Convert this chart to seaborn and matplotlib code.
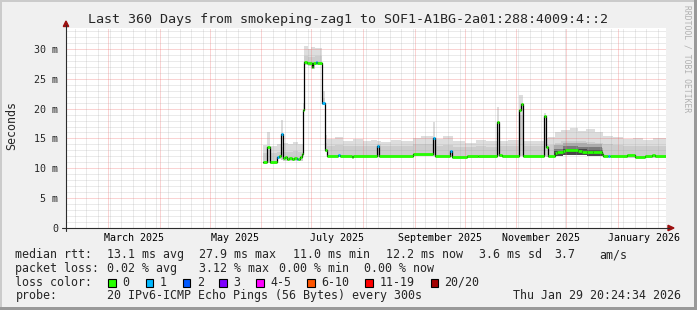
import numpy as np
import pandas as pd
import matplotlib
matplotlib.use("Agg")
import matplotlib.pyplot as plt
import matplotlib.dates as mdates
import matplotlib.ticker as mticker
from matplotlib.patches import Rectangle, Polygon
from matplotlib.lines import Line2D
import seaborn as sns

# ---------------- data ----------------
TITLE = "Last 360 Days from smokeping-zag1 to SOF1-A1BG-2a01:288:4009:4::2"
T_START = "2025-02-03 20:24"
T_END = "2026-01-29 20:24"

# median rtt (ms) as step segments: start time, value, loss class
med_start = [
    "2025-06-01 21:00", "2025-06-04 11:00", "2025-06-06 02:00", "2025-06-10 15:00",
    "2025-06-11 18:00", "2025-06-13 01:00", "2025-06-13 21:00", "2025-06-15 10:00",
    "2025-06-16 06:00", "2025-06-17 16:00", "2025-06-19 06:00", "2025-06-20 20:00",
    "2025-06-22 06:00", "2025-06-23 00:00", "2025-06-24 06:00", "2025-06-25 06:00",
    "2025-06-25 21:00", "2025-06-26 20:00", "2025-06-28 06:00", "2025-07-01 06:00",
    "2025-07-01 21:00", "2025-07-03 20:00", "2025-07-04 15:00", "2025-07-07 06:00",
    "2025-07-09 06:00", "2025-07-10 15:00", "2025-07-17 00:00", "2025-07-18 00:00",
    "2025-07-25 06:00", "2025-07-26 06:00", "2025-08-09 14:00", "2025-08-10 19:00",
    "2025-08-31 00:00", "2025-09-12 00:00", "2025-09-13 10:00", "2025-09-22 05:00",
    "2025-09-23 14:00", "2025-10-02 07:00", "2025-10-09 00:00", "2025-10-20 14:00",
    "2025-10-21 19:00", "2025-10-23 05:00", "2025-11-02 19:00", "2025-11-04 00:00",
    "2025-11-04 19:00", "2025-11-17 19:00", "2025-11-18 20:00", "2025-11-19 22:00",
    "2025-11-24 06:00", "2025-11-25 14:00", "2025-11-28 22:00", "2025-11-30 06:00",
    "2025-12-08 05:00", "2025-12-10 05:00", "2025-12-13 06:00", "2025-12-17 05:00",
    "2025-12-22 07:00", "2025-12-23 05:00", "2025-12-26 00:00", "2025-12-27 00:00",
    "2026-01-06 07:00", "2026-01-11 06:00", "2026-01-17 06:00", "2026-01-21 07:00",
    "2026-01-23 06:00",
]
med_value = [
    11.0, 13.6, 11.0, 11.95,
    12.05, 15.75, 11.68, 11.84,
    11.51, 11.79, 11.51, 11.68,
    11.51, 11.51, 11.95, 12.4,
    19.78, 27.87, 27.6, 26.9,
    27.6, 27.77, 27.6, 20.9,
    13.07, 12.12, 12.3, 12.12,
    11.85, 12.12, 13.8, 12.12,
    12.34, 15.13, 12.1, 12.95,
    11.95, 12.0, 12.06, 17.7,
    12.23, 12.12, 19.78, 20.78,
    12.12, 18.82, 13.63, 12.07,
    12.51, 12.79, 12.96, 13.07,
    12.9, 12.79, 12.68, 12.79,
    12.4, 12.12, 12.12, 12.12,
    12.23, 11.95, 12.12, 12.23,
    12.12,
]
med_loss = [
    0, 0, 0, 1,
    0, 1, 0, 0,
    0, 0, 0, 0,
    1, 0, 0, 0,
    0, 0, 0, 0,
    0, 1, 0, 1,
    0, 0, 1, 0,
    0, 0, 1, 0,
    0, 1, 0, 1,
    0, 0, 0, 0,
    0, 0, 0, 0,
    0, 0, 0, 0,
    0, 0, 0, 0,
    0, 0, 0, 0,
    0, 0, 1, 0,
    0, 0, 0, 0,
    0,
]

# smoke (ping spread, ms): start time, low, upper of dense part, max
smoke_start = [
    "2025-06-01 21:00", "2025-06-04 11:00", "2025-06-06 02:00", "2025-06-10 15:00",
    "2025-06-13 01:00", "2025-06-13 21:00", "2025-06-17 00:00", "2025-06-20 00:00",
    "2025-06-23 00:00", "2025-06-25 21:00", "2025-06-26 20:00", "2025-06-29 00:00",
    "2025-07-01 00:00", "2025-07-03 00:00", "2025-07-07 06:00", "2025-07-09 06:00",
    "2025-07-10 15:00", "2025-07-15 00:00", "2025-07-20 00:00", "2025-07-26 00:00",
    "2025-08-01 00:00", "2025-08-06 00:00", "2025-08-09 14:00", "2025-08-12 00:00",
    "2025-08-18 00:00", "2025-08-24 00:00", "2025-08-31 00:00", "2025-09-05 00:00",
    "2025-09-12 00:00", "2025-09-13 10:00", "2025-09-18 00:00", "2025-09-24 00:00",
    "2025-10-01 00:00", "2025-10-08 00:00", "2025-10-14 00:00", "2025-10-20 14:00",
    "2025-10-21 19:00", "2025-10-27 00:00", "2025-11-02 19:00", "2025-11-04 19:00",
    "2025-11-10 00:00", "2025-11-17 19:00", "2025-11-18 20:00", "2025-11-19 22:00",
    "2025-11-24 06:00", "2025-11-28 00:00", "2025-12-03 00:00", "2025-12-08 00:00",
    "2025-12-13 00:00", "2025-12-18 00:00", "2025-12-23 05:00", "2025-12-29 00:00",
    "2026-01-04 00:00", "2026-01-10 00:00", "2026-01-16 00:00", "2026-01-22 00:00",
]
smoke_lo = [
    10.8, 10.9, 10.8, 11.6,
    11.4, 11.3, 11.3, 11.3,
    11.3, 12.5, 27.3, 27.2,
    26.7, 27.3, 20.6, 12.8,
    11.9, 11.9, 11.9, 11.9,
    11.9, 11.9, 11.9, 11.9,
    11.9, 11.9, 12.1, 12.1,
    12.1, 11.9, 11.9, 11.7,
    11.7, 11.8, 11.8, 12.0,
    11.9, 11.9, 12.0, 11.9,
    11.9, 12.0, 11.9, 11.9,
    12.0, 12.2, 12.3, 12.2,
    12.2, 12.1, 11.9, 11.9,
    11.8, 11.7, 11.7, 11.8,
]
smoke_mid = [
    12.6, 13.0, 12.5, 12.8,
    13.5, 12.8, 12.7, 12.9,
    12.7, 18.5, 28.8, 28.6,
    28.7, 28.8, 21.8, 14.2,
    13.8, 13.9, 13.7, 13.8,
    13.7, 13.8, 14.0, 13.7,
    13.8, 13.7, 14.0, 14.1,
    14.6, 13.8, 13.9, 13.6,
    13.5, 13.7, 13.6, 16.0,
    13.7, 13.8, 19.0, 13.8,
    13.7, 17.0, 14.1, 13.9,
    14.3, 14.5, 14.6, 14.5,
    14.4, 14.3, 14.0, 13.9,
    13.8, 13.8, 13.7, 13.8,
]
smoke_hi = [
    13.9, 16.0, 13.8, 14.0,
    18.1, 14.3, 14.0, 14.4,
    14.1, 21.0, 30.5, 30.0,
    30.4, 30.2, 23.0, 15.5,
    14.9, 15.2, 14.6, 14.9,
    14.5, 14.8, 14.6, 14.4,
    14.7, 14.5, 15.0, 15.4,
    17.8, 14.9, 15.4, 14.5,
    14.3, 14.7, 14.5, 20.3,
    14.6, 14.8, 22.2, 14.6,
    14.5, 19.2, 15.0, 15.2,
    16.0, 16.4, 16.8, 16.2,
    16.6, 16.0, 15.4, 15.2,
    14.9, 15.1, 14.8, 15.0,
]

# dense (dark) smoke during late Nov - Dec
dark_start = ["2025-11-23 12:00", "2025-11-28 22:00", "2025-12-08 05:00",
              "2025-12-13 06:00", "2025-12-22 07:00"]
dark_end = "2025-12-23 05:00"
dark_lo = [12.0, 12.2, 12.2, 12.1, 12.0]
dark_l1 = [13.9, 14.3, 14.2, 14.1, 13.4]
dark_l2 = [13.3, 13.8, 13.6, 13.5, 13.0]
dark_l3 = [12.9, 13.3, 13.2, 13.1, 12.7]

loss_labels = ["0", "1", "2", "3", "4-5", "6-10", "11-19", "20/20"]
loss_colors = ["#26ff00", "#00b8ff", "#0059ff", "#7e00ff",
               "#ff00ff", "#ff5500", "#ff0000", "#a10000"]

x_label_text = ["March 2025", "May 2025", "July 2025",
                "September 2025", "November 2025", "January 2026"]
x_label_month = ["2025-03-01", "2025-05-01", "2025-07-01",
                 "2025-09-01", "2025-11-01", "2026-01-01"]

y_ticks = [0, 5, 10, 15, 20, 25, 30]
y_tick_labels = ["0", "5 m", "10 m", "15 m", "20 m", "25 m", "30 m"]

row_rtt = ["median rtt:", "13.1 ms avg", "27.9 ms max", "11.0 ms min",
           "12.2 ms now", "3.6 ms sd", "3.7", "am/s"]
row_loss = ["packet loss:", "0.02 % avg", "3.12 % max", "0.00 % min", "0.00 % now"]
row_probe = ["probe:", "20 IPv6-ICMP Echo Pings (56 Bytes) every 300s",
             "Thu Jan 29 20:24:34 2026"]

# ---------------- figure ----------------
W, H = 697, 310
sns.set_style("white")
plt.rcParams["font.family"] = ["DejaVu Sans Mono"]
plt.rcParams["lines.scale_dashes"] = True

fig = plt.figure(figsize=(W / 100, H / 100), dpi=100)
fig.patch.set_facecolor("#f0f0f0")


def fx(px):
    return px / W


def fy(py):
    return 1 - py / H


ax = fig.add_axes([fx(66), 1 - 228 / H, 600 / W, 200 / H])
ax.set_facecolor("white")

t_end = pd.Timestamp(T_END)


def ext(starts, vals, end):
    t = list(pd.to_datetime(starts)) + [pd.Timestamp(end)]
    v = list(vals) + [vals[-1]]
    return t, v


# smoke layers
st, hi = ext(smoke_start, smoke_hi, T_END)
_, lo = ext(smoke_start, smoke_lo, T_END)
_, mid = ext(smoke_start, smoke_mid, T_END)
ax.fill_between(st, lo, hi, step="post", color="#dddddd", lw=0, zorder=1)
ax.fill_between(st, lo, mid, step="post", color="#cdcdcd", lw=0, zorder=1.1)

dt, dlo = ext(dark_start, dark_lo, dark_end)
_, d1 = ext(dark_start, dark_l1, dark_end)
_, d2 = ext(dark_start, dark_l2, dark_end)
_, d3 = ext(dark_start, dark_l3, dark_end)
ax.fill_between(dt, dlo, d1, step="post", color="#adadad", lw=0, zorder=1.2)
ax.fill_between(dt, dlo, d2, step="post", color="#7a7a7a", lw=0, zorder=1.3)
ax.fill_between(dt, dlo, d3, step="post", color="#484848", lw=0, zorder=1.4)

# median black step line via seaborn
mt, mv = ext(med_start, med_value, T_END)
df = pd.DataFrame({"time": mt, "rtt": mv})
sns.lineplot(data=df, x="time", y="rtt", ax=ax, color="black", lw=0.9,
             drawstyle="steps-post", zorder=4)

# loss-coloured median segments
seg_start = mdates.date2num(pd.to_datetime(med_start))
seg_end = mdates.date2num(pd.to_datetime(med_start[1:] + [T_END]))
ax.hlines(med_value, seg_start, seg_end,
          colors=[loss_colors[i] for i in med_loss], lw=2.0, zorder=5,
          capstyle="butt")

ax.set_xlim(pd.Timestamp(T_START), t_end)
ax.set_ylim(0, 33.5)
ax.set_xlabel("")
ax.set_ylabel("")

ax.xaxis.set_major_locator(mdates.MonthLocator())
ax.xaxis.set_minor_locator(mdates.WeekdayLocator(byweekday=mdates.SU))
ax.xaxis.set_major_formatter(mticker.NullFormatter())
ax.xaxis.set_minor_formatter(mticker.NullFormatter())
ax.set_yticks(y_ticks)
ax.set_yticklabels(y_tick_labels)
ax.yaxis.set_minor_locator(mticker.MultipleLocator(1))

ax.set_axisbelow(False)
ax.grid(which="major", color="#f06060", alpha=0.55, lw=0.72, linestyle=(0, (1, 1)))
ax.grid(which="minor", color="#a0a0a0", alpha=0.42, lw=0.72, linestyle=(0, (1, 1)))

ax.tick_params(which="major", direction="out", length=2.2, width=0.7,
               color="#2c2c2c", labelsize=7.2, pad=3.4)
ax.tick_params(which="minor", direction="out", length=1.4, width=0.6,
               color="#2c2c2c")
for s in ax.spines.values():
    s.set_visible(False)

# x labels centred in the middle of their month
for txt, m in zip(x_label_text, x_label_month):
    m0 = pd.Timestamp(m)
    m1 = m0 + pd.offsets.MonthBegin(1)
    xc = m0 + (m1 - m0) / 2
    ax.text(xc, -12.7 / 200, txt, transform=ax.get_xaxis_transform(),
            ha="center", va="baseline", fontsize=7.2, color="black")

# axis lines and arrows
axis_col = "#2c2c2c"
fig.add_artist(Line2D([fx(66), fx(66)], [fy(231), fy(25)], color=axis_col, lw=0.8))
fig.add_artist(Line2D([fx(62), fx(669)], [fy(228), fy(228)], color=axis_col, lw=0.8))
fig.add_artist(Polygon([(fx(63.3), fy(26.5)), (fx(68.7), fy(26.5)), (fx(66), fy(21))],
                       closed=True, color="#9c1010", transform=fig.transFigure))
fig.add_artist(Polygon([(fx(668), fy(225.3)), (fx(668), fy(230.7)), (fx(674), fy(228))],
                       closed=True, color="#9c1010", transform=fig.transFigure))

# title, y label, watermark
fig.text(fx(348.5), fy(23.3), TITLE, ha="center", va="baseline", fontsize=9.6)
fig.text(fx(12), fy(126), "Seconds", rotation=90, ha="center", va="center",
         fontsize=8.4)
fig.text(fx(687.5), fy(5), "RRDTOOL / TOBI OETIKER", rotation=270, ha="center",
         va="top", fontsize=5.8, color="#b0b0b0")

# legend block
fs = 8.4
rtt_x = [16, 107.3, 200, 293.3, 386.7, 480, 555, 600]
for t, x in zip(row_rtt, rtt_x):
    fig.text(fx(x - 0.6), fy(258.3), t, ha="left", va="baseline", fontsize=fs)
loss_x = [16, 107.3, 200, 279.3, 365]
for t, x in zip(row_loss, loss_x):
    fig.text(fx(x - 0.6), fy(271.7), t, ha="left", va="baseline", fontsize=fs)
fig.text(fx(15.4), fy(285.7), "loss color:", ha="left", va="baseline", fontsize=fs)
box_x = [108.3, 145.7, 182.7, 219.3, 256, 307.3, 365, 430.7]
lab_x = [123.3, 160.7, 197.7, 234.3, 271, 322.3, 380, 445]
for lab, col, bx, lx in zip(loss_labels, loss_colors, box_x, lab_x):
    fig.add_artist(Rectangle((fx(bx), fy(286.5)), 7.6 / W, 7.6 / H,
                             facecolor=col, edgecolor="black", lw=0.8,
                             transform=fig.transFigure))
    fig.text(fx(lx - 0.6), fy(285.7), lab, ha="left", va="baseline", fontsize=fs)
probe_x = [16, 107.3, 513.3]
for t, x in zip(row_probe, probe_x):
    fig.text(fx(x - 0.6), fy(299.3), t, ha="left", va="baseline", fontsize=fs)

# frame shading
fig.add_artist(Rectangle((0, fy(2)), 1, 2 / H, color="#cbcbcb", transform=fig.transFigure, lw=0))
fig.add_artist(Rectangle((0, 0), 2 / W, 1, color="#cbcbcb", transform=fig.transFigure, lw=0))
fig.add_artist(Rectangle((0, 0), 1, 3 / H, color="#999999", transform=fig.transFigure, lw=0))
fig.add_artist(Rectangle((fx(W - 3), 0), 3 / W, 1, color="#999999", transform=fig.transFigure, lw=0))

fig.savefig("out.png", dpi=100, facecolor=fig.get_facecolor())
